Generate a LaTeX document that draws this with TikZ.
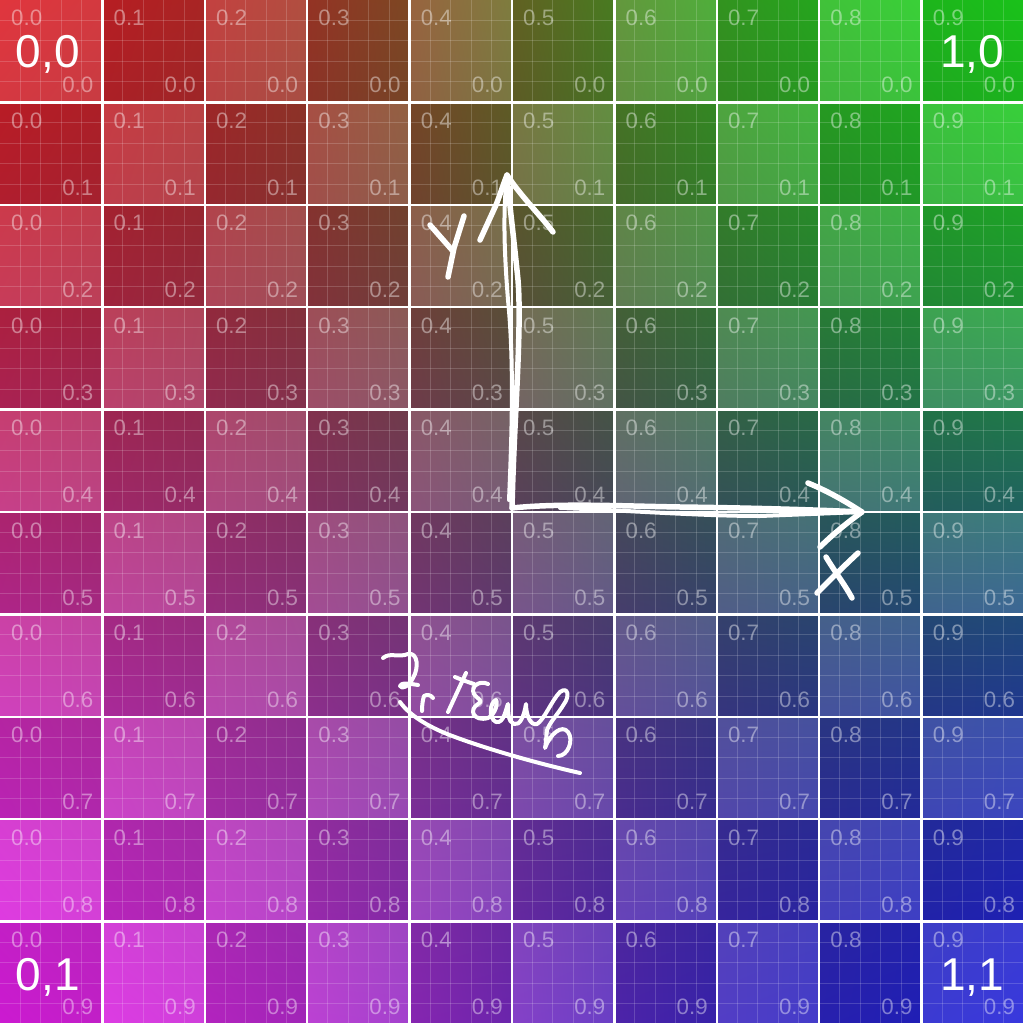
\documentclass[tikz,border=0pt]{standalone}
\usepackage{fontspec}
\usetikzlibrary{shadings}
\newfontfamily\labfont{Liberation Sans}
\tikzset{
  small/.style={text=white, text opacity=0.42, inner sep=0pt, font=\labfont\fontsize{6.35}{7}\selectfont},
  big/.style={text=white, inner sep=0pt, font=\labfont\fontsize{13.1}{15}\selectfont},
  cellline/.style={white, line width=0.25mm},
  subline/.style={white, opacity=0.17, line width=0.1mm},
  hand/.style={white, line width=0.55mm, line cap=round, line join=round},
  thin hand/.style={white, line width=0.4mm, line cap=round, line join=round},
}
% colour of the background gradient at (u,v), plus a lightening amount
\newcommand\gradcol[4]{%
  \pgfmathsetmacro\gu{#2}%
  \pgfmathsetmacro\gv{#3}%
  \pgfmathsetmacro\su{\gu*\gu*(3-2*\gu)}%
  \pgfmathsetmacro\sv{\gv*\gv*(3-2*\gv)}%
  \pgfmathsetmacro\su{0.3*\su+0.7*\su*\su*(3-2*\su)}%
  \pgfmathsetmacro\sv{0.5*\sv+0.5*\sv*\sv*(3-2*\sv)}%
  \pgfmathsetmacro\gf{1-0.35*(\gu*(1-\gu)+\gv*(1-\gv))}%
  \pgfmathsetmacro\gd{0.6*(\gu*(1-\gu)+\gv*(1-\gv))}%
  \pgfmathsetmacro\gr{(1-\su)*(1-\sv)*0.77+\su*(1-\sv)*0.10+(1-\su)*\sv*0.80+\su*\sv*0.11}%
  \pgfmathsetmacro\gg{(1-\su)*(1-\sv)*0.10+\su*(1-\sv)*0.76+(1-\su)*\sv*0.10+\su*\sv*0.11}%
  \pgfmathsetmacro\gb{(1-\su)*(1-\sv)*0.13+\su*(1-\sv)*0.10+(1-\su)*\sv*0.82+\su*\sv*0.76}%
  \pgfmathsetmacro\gl{(\gr+\gg+\gb)/3}%
  \pgfmathsetmacro\gr{min(1,\gf*((1-\gd)*\gr+\gd*\gl)+#4)}%
  \pgfmathsetmacro\gg{min(1,\gf*((1-\gd)*\gg+\gd*\gl)+#4)}%
  \pgfmathsetmacro\gb{min(1,\gf*((1-\gd)*\gb+\gd*\gl)+#4)}%
  \definecolor{#1}{rgb}{\gr,\gg,\gb}%
}
\begin{document}
\begin{tikzpicture}[x=0.1mm,y=-0.1mm]
\useasboundingbox (0,0) rectangle (1024,1024);
\clip (0,0) rectangle (1024,1024);
% cells
\foreach \i in {0,...,9}{
  \foreach \j in {0,...,9}{
    \pgfmathsetmacro\k{mod(\i+\j,2)==0 ? 0.11 : 0}
    \gradcol{cul}{\i/10}{\j/10}{\k}
    \gradcol{cur}{(\i+1)/10}{\j/10}{\k}
    \gradcol{cll}{\i/10}{(\j+1)/10}{\k}
    \gradcol{clr}{(\i+1)/10}{(\j+1)/10}{\k}
    \shade[upper left=cul, upper right=cur, lower left=cll, lower right=clr]
      (\i*102.4,\j*102.4) rectangle ++(102.4,102.4);
  }
}
% sub grid
\foreach \c in {0,...,9}{
  \foreach \s in {1,...,4}{
    \draw[subline] (\c*102.4+\s*20.48,0) -- (\c*102.4+\s*20.48,1024);
    \draw[subline] (0,\c*102.4+\s*20.48) -- (1024,\c*102.4+\s*20.48);
  }
}
% cell lines
\foreach \c in {1,...,10}{
  \draw[cellline] (\c*102.4,0) -- (\c*102.4,1024);
  \draw[cellline] (0,\c*102.4) -- (1024,\c*102.4);
}
% labels
\foreach \i in {0,...,9}{
  \foreach \j in {0,...,9}{
    \node[small, anchor=base west] (tl\i\j) at (\i*102.4+10.5,\j*102.4+26) {0.\i};
    \node[small, anchor=base east] (br\i\j) at (\i*102.4+94,\j*102.4+93) {0.\j};
  }
}
% corner labels
\node[big, anchor=base west] (c00) at (15,68) {0,0};
\node[big, anchor=base east] (c10) at (1005,68) {1,0};
\node[big, anchor=base west] (c01) at (15,990) {0,1};
\node[big, anchor=base east] (c11) at (1005,990) {1,1};
% hand-drawn axes
\coordinate (o) at (512,508);
\coordinate (ytip) at (507,175);
\coordinate (xtip) at (862,512);
% Y shaft (two strokes)
\draw[hand] (o) .. controls (514,420) and (522,330) .. (518,280) .. controls (514,240) and (509,200) .. (ytip);
\draw[thin hand] (509,500) .. controls (512,430) and (514,360) .. (508,300) .. controls (504,250) and (503,210) .. (ytip);
% Y arrowhead
\draw[hand] (480,240) -- (496,205) .. controls (500,195) and (503,185) .. (ytip) .. controls (520,195) and (540,215) .. (553,232);
% X shaft
\draw[hand] (o) .. controls (560,503) and (620,506) .. (680,507) .. controls (760,508) and (820,510) .. (xtip);
\draw[thin hand] (560,508) .. controls (620,510) and (700,516) .. (760,516) -- (xtip);
% X arrowhead
\draw[hand] (808,483) .. controls (830,492) and (848,503) .. (xtip) .. controls (848,522) and (832,535) .. (820,547);
% letters
\draw[hand] (430,225) -- (452,250);
\draw[hand] (464,216) -- (454,248) -- (448,277);
\draw[hand] (826,557) .. controls (835,572) and (845,585) .. (852,598);
\draw[hand] (858,553) .. controls (845,565) and (830,580) .. (817,593);
% signature
\draw[thin hand] (383,658) .. controls (390,652) and (398,658) .. (408,654)
  .. controls (418,652) and (419,668) .. (413,678) .. controls (409,686) and (402,690) .. (400,686)
  .. controls (400,682) and (412,684) .. (418,685);
\draw[thin hand] (422,711) .. controls (422,704) and (423,699) .. (424,696) .. controls (427,694) and (431,695) .. (433,698);
\draw[thin hand] (466,673) -- (448,712);
\draw[thin hand] (455,677) .. controls (462,680) and (468,682) .. (474,684);
\draw[thin hand] (488,684) .. controls (480,680) and (470,686) .. (474,694)
  .. controls (478,700) and (484,700) .. (478,704) .. controls (468,710) and (474,722) .. (488,718)
  .. controls (496,714) and (498,702) .. (496,700) .. controls (490,702) and (488,718) .. (496,722)
  .. controls (504,724) and (506,708) .. (508,704) .. controls (508,712) and (508,722) .. (514,724)
  .. controls (520,726) and (524,716) .. (526,704) .. controls (526,714) and (530,726) .. (537,724)
  .. controls (544,720) and (552,700) .. (560,692) .. controls (568,686) and (570,696) .. (564,704)
  .. controls (558,714) and (550,722) .. (547,730) .. controls (546,738) and (546,744) .. (545,748)
  .. controls (550,734) and (562,724) .. (568,732) .. controls (574,740) and (568,756) .. (558,756);
\draw[thin hand] (400,702) .. controls (410,716) and (430,728) .. (455,737) .. controls (490,750) and (540,764) .. (580,773);
\end{tikzpicture}
\end{document}
